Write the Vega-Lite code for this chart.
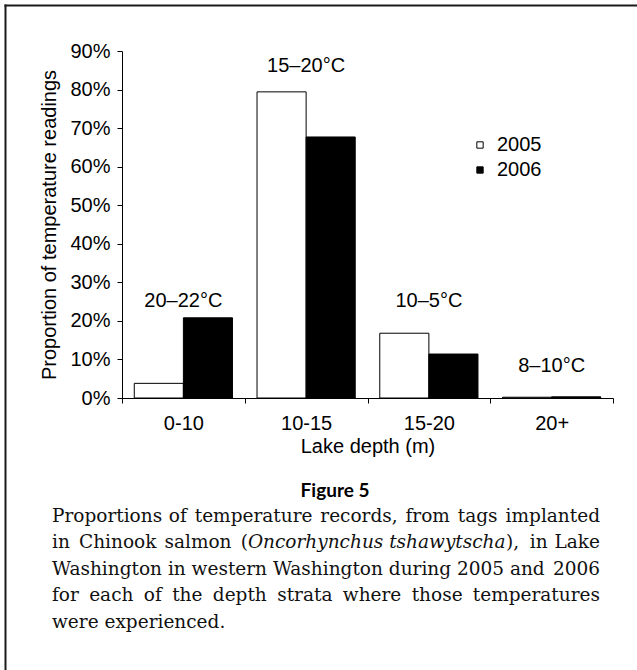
{
  "$schema": "https://vega.github.io/schema/vega-lite/v6.json",
  "width": 632,
  "height": 665,
  "autosize": {"type": "none"},
  "padding": {"left": 5, "top": 5, "right": 0, "bottom": 0},
  "background": "white",
  "config": {
    "view": {"stroke": null},
    "font": "Liberation Sans",
    "axis": {"grid": false}
  },
  "datasets": {
    "bars": [
      {"depth": "0-10", "year": "2005", "share": 0.038},
      {"depth": "0-10", "year": "2006", "share": 0.208},
      {"depth": "10-15", "year": "2005", "share": 0.794},
      {"depth": "10-15", "year": "2006", "share": 0.677},
      {"depth": "15-20", "year": "2005", "share": 0.168},
      {"depth": "15-20", "year": "2006", "share": 0.114},
      {"depth": "20+", "year": "2005", "share": 0.002},
      {"depth": "20+", "year": "2006", "share": 0.003}
    ],
    "notes": [
      {"depth": "0-10", "label": "20–22°C", "pos": 0.236},
      {"depth": "10-15", "label": "15–20°C", "pos": 0.845},
      {"depth": "15-20", "label": "10–5°C", "pos": 0.236},
      {"depth": "20+", "label": "8–10°C", "pos": 0.067}
    ],
    "caption": [
      {"kind": "fig", "t": "Figure 5", "x": 0.5222, "line": 0.06},
      {"kind": "left", "t": "Proportions", "x": 0.07437, "line": 1},
      {"kind": "left", "t": "of", "x": 0.25918, "line": 1},
      {"kind": "left", "t": "temperature", "x": 0.30016, "line": 1},
      {"kind": "left", "t": "records,", "x": 0.49889, "line": 1},
      {"kind": "left", "t": "from", "x": 0.63370, "line": 1},
      {"kind": "left", "t": "tags", "x": 0.71646, "line": 1},
      {"kind": "right", "t": "implanted", "x": 0.94146, "line": 1},
      {"kind": "left", "t": "in", "x": 0.07437, "line": 2},
      {"kind": "left", "t": "Chinook", "x": 0.11709, "line": 2},
      {"kind": "left", "t": "salmon", "x": 0.25237, "line": 2},
      {"kind": "left", "t": "(", "x": 0.37294, "line": 2},
      {"kind": "ital", "t": "Oncorhynchus tshawytscha", "x": 0.38434, "line": 2},
      {"kind": "left", "t": "),", "x": 0.79272, "line": 2},
      {"kind": "left", "t": "in", "x": 0.83038, "line": 2},
      {"kind": "right", "t": "Lake", "x": 0.94146, "line": 2},
      {"kind": "left", "t": "Washington in western Washington during 2005 and", "x": 0.07437, "line": 3},
      {"kind": "right", "t": "2006", "x": 0.94146, "line": 3},
      {"kind": "left", "t": "for", "x": 0.07437, "line": 4},
      {"kind": "left", "t": "each", "x": 0.13315, "line": 4},
      {"kind": "left", "t": "of", "x": 0.21962, "line": 4},
      {"kind": "left", "t": "the", "x": 0.26448, "line": 4},
      {"kind": "left", "t": "depth", "x": 0.32880, "line": 4},
      {"kind": "left", "t": "strata", "x": 0.43062, "line": 4},
      {"kind": "left", "t": "where", "x": 0.53449, "line": 4},
      {"kind": "left", "t": "those", "x": 0.64343, "line": 4},
      {"kind": "right", "t": "temperatures", "x": 0.94146, "line": 4},
      {"kind": "left", "t": "were experienced.", "x": 0.07437, "line": 5}
    ]
  },
  "layer": [
    {
      "layer": [
        {
          "data": {"name": "bars"},
          "mark": {"type": "bar", "stroke": "black", "strokeWidth": 1},
          "encoding": {
            "x": {
              "field": "depth", "type": "nominal",
              "scale": {"domain": ["0-10", "10-15", "15-20", "20+"], "range": [117, 608], "paddingInner": 0, "paddingOuter": 0},
              "axis": {
                "title": "Lake depth (m)", "orient": "bottom", "offset": -272,
                "tickBand": "extent", "labelAngle": 0,
                "labelFont": "Liberation Sans", "labelFontSize": 20, "labelColor": "black", "labelPadding": 10,
                "tickSize": 5, "tickColor": "black", "domainColor": "black",
                "titleFont": "Liberation Sans", "titleFontSize": 20, "titleFontWeight": "normal", "titleColor": "black", "titlePadding": 3
              }
            },
            "xOffset": {
              "field": "year", "type": "nominal",
              "scale": {"domain": ["2005", "2006"], "paddingInner": 0, "paddingOuter": 0.25}
            },
            "y": {
              "field": "share", "type": "quantitative",
              "scale": {"domain": [0, 0.9], "range": [393, 46], "nice": false, "zero": true},
              "axis": {
                "title": "Proportion of temperature readings", "orient": "left", "offset": -117,
                "values": [0, 0.1, 0.2, 0.3, 0.4, 0.5, 0.6, 0.7, 0.8, 0.9], "format": ".0%",
                "labelFont": "Liberation Sans", "labelFontSize": 20, "labelColor": "black", "labelPadding": 7,
                "tickSize": 5, "tickColor": "black", "domainColor": "black",
                "titleFont": "Liberation Sans", "titleFontSize": 20, "titleFontWeight": "normal", "titleColor": "black", "titlePadding": 10
              }
            },
            "fill": {
              "field": "year", "type": "nominal",
              "scale": {"domain": ["2005", "2006"], "range": ["white", "black"]},
              "legend": {
                "title": null, "orient": "none", "legendX": 465, "legendY": 130,
                "symbolType": "square", "symbolSize": 40, "symbolStrokeColor": "black", "symbolStrokeWidth": 1,
                "labelFont": "Liberation Sans", "labelFontSize": 20, "labelColor": "black", "labelOffset": 7,
                "rowPadding": 5, "padding": 0
              }
            }
          }
        },
        {
          "data": {"name": "notes"},
          "mark": {"type": "text", "font": "Liberation Sans", "fontSize": 20, "baseline": "alphabetic", "align": "center", "color": "black"},
          "encoding": {
            "x": {"field": "depth", "type": "nominal"},
            "y": {"field": "pos", "type": "quantitative"},
            "text": {"field": "label"}
          }
        }
      ]
    },
    {
      "data": {"name": "caption"},
      "encoding": {
        "x": {
          "field": "x", "type": "quantitative",
          "scale": {"domain": [0, 1], "range": [0, 632], "nice": false, "zero": false},
          "axis": {"orient": "top", "labels": false, "ticks": false, "title": null, "domainColor": "#1a1a1a", "domainWidth": 2, "domainCap": "square", "grid": false}
        },
        "y": {
          "field": "line", "type": "quantitative",
          "scale": {"domain": [-18.509, 6.585], "range": [0, 665], "nice": false, "zero": false},
          "axis": {"orient": "left", "labels": false, "ticks": false, "title": null, "domainColor": "#1a1a1a", "domainWidth": 2, "domainCap": "square", "grid": false}
        },
        "text": {"field": "t"}
      },
      "layer": [
        {
          "transform": [{"filter": "datum.kind == 'fig'"}],
          "mark": {"type": "text", "font": "Lato", "fontWeight": "bold", "fontSize": 19, "align": "center", "baseline": "alphabetic", "color": "black"}
        },
        {
          "transform": [{"filter": "datum.kind == 'left'"}],
          "mark": {"type": "text", "font": "DejaVu Serif", "fontSize": 18.5, "align": "left", "baseline": "alphabetic", "color": "#111"}
        },
        {
          "transform": [{"filter": "datum.kind == 'ital'"}],
          "mark": {"type": "text", "font": "DejaVu Serif", "fontStyle": "italic", "fontSize": 18.5, "align": "left", "baseline": "alphabetic", "color": "#111"}
        },
        {
          "transform": [{"filter": "datum.kind == 'right'"}],
          "mark": {"type": "text", "font": "DejaVu Serif", "fontSize": 18.5, "align": "right", "baseline": "alphabetic", "color": "#111"}
        }
      ]
    }
  ],
  "resolve": {
    "scale": {"x": "independent", "y": "independent"},
    "axis": {"x": "independent", "y": "independent"}
  }
}
